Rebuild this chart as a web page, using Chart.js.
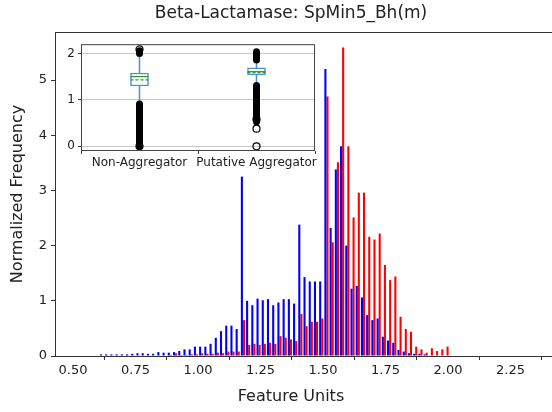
<!DOCTYPE html>
<html>
<head>
<meta charset="utf-8">
<script src="https://cdn.jsdelivr.net/npm/chart.js@4.4.1/dist/chart.umd.min.js"></script>
<style>
  html, body { margin: 0; padding: 0; background: #fff; overflow: hidden; }
  #wrap { position: relative; width: 552px; height: 412px; }
  #histChart { position: absolute; left: 0; top: 0; }
  #boxChart { position: absolute; left: 56px; top: 34px; }
</style>
</head>
<body>
<div id="wrap">
  <canvas id="histChart" width="552" height="412"></canvas>
  <canvas id="boxChart" width="270" height="140"></canvas>
</div>

<script>
  // histogram bins (100 bins from 0, only the visible ones listed)
  var binWidth = 0.02088;
  var firstBin = 29;

  // Non-Aggregator (blue)
  var nonAggregator = [
    0.03, 0.03, 0.03, 0.03, 0.03, 0.03, 0.04, 0.05, 0.05, 0.04,
    0.04, 0.07, 0.06, 0.06, 0.07, 0.09, 0.12, 0.12, 0.17, 0.17,
    0.17, 0.22, 0.33, 0.45, 0.55, 0.55, 0.49, 3.25, 1.00, 0.92,
    1.04, 1.01, 1.03, 0.92, 0.97, 1.03, 1.03, 0.95, 2.38, 1.43,
    1.35, 1.35, 1.35, 5.20, 2.32, 3.38, 3.80, 2.00, 1.22, 1.27,
    1.06, 0.74, 0.65, 0.68, 0.35, 0.28, 0.24, 0.11, 0.08, 0.05,
    0.04, 0.04, 0.03, 0.01, 0.01, 0.00, 0.00
  ];

  // Putative Aggregator (red)
  var putativeAggregator = [
    0.00, 0.00, 0.00, 0.00, 0.01, 0.00, 0.01, 0.01, 0.01, 0.01,
    0.01, 0.01, 0.01, 0.02, 0.05, 0.02, 0.02, 0.03, 0.03, 0.05,
    0.04, 0.04, 0.06, 0.05, 0.08, 0.08, 0.08, 0.65, 0.20, 0.22,
    0.20, 0.22, 0.24, 0.22, 0.36, 0.33, 0.30, 0.27, 0.76, 0.54,
    0.62, 0.62, 0.68, 4.70, 2.06, 3.51, 5.59, 3.80, 2.51, 2.96,
    2.96, 2.16, 2.11, 2.22, 1.65, 1.38, 1.44, 0.71, 0.49, 0.44,
    0.17, 0.12, 0.06, 0.14, 0.09, 0.12, 0.17
  ];

  var xTicks = [0.50, 0.75, 1.00, 1.25, 1.50, 1.75, 2.00, 2.25];
  var yTicks = [0, 1, 2, 3, 4, 5];

  // inset boxplot
  var boxGroups = ['Non-Aggregator', 'Putative Aggregator'];
  var boxQ1 = [1.30, 1.54];
  var boxQ3 = [1.58, 1.69];
  var boxMedian = [1.50, 1.61];
  var boxMean = [1.43, 1.59];
  var whiskerLow = [0.93, 1.34];
  var whiskerHigh = [1.98, 1.83];
  var outlierBands = [
    [[0.00, 0.91], [2.00, 2.06]],
    [[0.53, 1.31], [1.86, 2.04]]
  ];
  var outlierPoints = [[2.09, 0.00], [0.38, 0.58, 0.00]];
  var boxTicks = [0, 1, 2];

  var titleText = 'Beta-Lactamase: SpMin5_Bh(m)';
  var xLabelText = 'Feature Units';

  var binCenters = nonAggregator.map(function (v, i) {
    return (firstBin + i + 0.5) * binWidth;
  });

  // top spine, title and x label (both sit a bit left of the visible plot centre, like the original)
  var spines = {
    id: 'spines',
    afterDraw: function (chart) {
      var a = chart.chartArea, c = chart.ctx;
      c.save();
      c.strokeStyle = '#333';
      c.lineWidth = 1;
      c.beginPath();
      c.moveTo(a.left, a.top + 0.5);
      c.lineTo(a.right, a.top + 0.5);
      c.stroke();
      c.fillStyle = '#222';
      c.textAlign = 'center';
      c.textBaseline = 'middle';
      c.font = '17px "DejaVu Sans"';
      c.fillText(titleText, 291, 14);
      c.font = '16px "DejaVu Sans"';
      c.fillText(xLabelText, 291, 397);
      c.restore();
    }
  };

  var ctxHist = document.getElementById('histChart').getContext('2d');
  var histChart = new Chart(ctxHist, {
    type: 'bar',
    data: {
      datasets: [{
        label: 'Non-Aggregator',
        data: binCenters.map(function (x, i) { return { x: x, y: nonAggregator[i] }; }),
        backgroundColor: '#0000ff'
      }, {
        label: 'Putative Aggregator',
        data: binCenters.map(function (x, i) { return { x: x, y: putativeAggregator[i] }; }),
        backgroundColor: '#ff0000'
      }]
    },
    options: {
      responsive: false,
      animation: false,
      categoryPercentage: 0.8,
      barPercentage: 1.0,
      layout: { padding: { top: 32 } },
      plugins: {
        legend: { display: false },
        tooltip: { enabled: false }
      },
      scales: {
        x: {
          type: 'linear',
          offset: false,
          min: 0.428,
          max: 2.416,
          afterFit: function (s) { s.height = 56; },
          afterBuildTicks: function (s) { s.ticks = xTicks.map(function (v) { return { value: v }; }); },
          ticks: {
            color: '#222',
            font: { family: 'DejaVu Sans', size: 13 },
            padding: 3,
            maxRotation: 0,
            callback: function (v) { return Number(v).toFixed(2); }
          },
          grid: { drawOnChartArea: false, drawTicks: true, tickLength: 4, color: '#333' },
          border: { display: true, color: '#333', width: 1 }
        },
        y: {
          min: 0,
          max: 5.87,
          afterFit: function (s) { s.width = 55; },
          afterBuildTicks: function (s) { s.ticks = yTicks.map(function (v) { return { value: v }; }); },
          ticks: {
            color: '#222',
            font: { family: 'DejaVu Sans', size: 13 },
            padding: 4
          },
          grid: { drawOnChartArea: false, drawTicks: true, tickLength: 4, color: '#333' },
          border: { display: true, color: '#333', width: 1 },
          title: {
            display: true,
            text: 'Normalized Frequency',
            color: '#222',
            font: { family: 'DejaVu Sans', size: 16 },
            padding: { top: 8, bottom: 0 }
          }
        }
      }
    },
    plugins: [spines]
  });

  // ---- inset boxplot ----
  var insetFrame = {
    id: 'insetFrame',
    beforeDraw: function (chart) {
      var a = chart.chartArea, c = chart.ctx;
      c.save();
      c.fillStyle = '#fff';
      c.fillRect(a.left, a.top, a.right - a.left, a.bottom - a.top);
      c.restore();
    },
    afterDraw: function (chart) {
      var a = chart.chartArea, c = chart.ctx;
      c.save();
      c.strokeStyle = '#444';
      c.lineWidth = 1;
      c.strokeRect(a.left + 0.5, a.top + 0.5, a.right - a.left - 1, a.bottom - a.top - 1);
      c.restore();
    }
  };

  var half = 0.077;
  var boxBlue = '#4f8fd0';
  var insetSets = [];

  boxGroups.forEach(function (g, i) {
    var p = i + 1;
    outlierBands[i].forEach(function (b) {
      insetSets.push({
        type: 'line',
        data: [{ x: p, y: b[0] }, { x: p, y: b[1] }],
        borderColor: '#000',
        borderWidth: 7,
        borderCapStyle: 'round',
        pointRadius: 0,
        order: 1
      });
    });
    insetSets.push({
      type: 'scatter',
      data: outlierPoints[i].map(function (y) { return { x: p, y: y }; }),
      pointRadius: 3.5,
      borderColor: '#000',
      borderWidth: 1.2,
      backgroundColor: 'rgba(0,0,0,0)',
      order: 0
    });
    insetSets.push({
      type: 'line',
      data: [{ x: p, y: whiskerLow[i] }, { x: p, y: boxQ1[i] }],
      borderColor: boxBlue, borderWidth: 1.5, pointRadius: 0, order: 3
    });
    insetSets.push({
      type: 'line',
      data: [{ x: p, y: boxQ3[i] }, { x: p, y: whiskerHigh[i] }],
      borderColor: boxBlue, borderWidth: 1.5, pointRadius: 0, order: 3
    });
    insetSets.push({
      type: 'line',
      data: [{ x: p - half, y: boxMedian[i] }, { x: p + half, y: boxMedian[i] }],
      borderColor: '#2ca02c', borderWidth: 1.3, pointRadius: 0, order: 0
    });
    insetSets.push({
      type: 'line',
      data: [{ x: p - half, y: boxMean[i] }, { x: p + half, y: boxMean[i] }],
      borderColor: '#2ca02c', borderWidth: 1.3, borderDash: [3, 2], pointRadius: 0, order: 0
    });
  });

  insetSets.push({
    type: 'bar',
    data: boxGroups.map(function (g, i) { return { x: i + 1, y: [boxQ1[i], boxQ3[i]] }; }),
    backgroundColor: '#ffffff',
    borderColor: boxBlue,
    borderWidth: 1.5,
    borderSkipped: false,
    barThickness: 18,
    grouped: false,
    order: 2
  });

  var ctxBox = document.getElementById('boxChart').getContext('2d');
  var boxChart = new Chart(ctxBox, {
    type: 'scatter',
    data: { datasets: insetSets },
    options: {
      responsive: false,
      animation: false,
      layout: { padding: { top: 7, right: 11, left: 0, bottom: 0 } },
      plugins: { legend: { display: false }, tooltip: { enabled: false } },
      scales: {
        x: {
          type: 'linear',
          offset: false,
          min: 0.5,
          max: 2.5,
          afterFit: function (s) { s.height = 23; },
          afterBuildTicks: function (s) { s.ticks = boxGroups.map(function (g, i) { return { value: i + 1 }; }); },
          ticks: {
            color: '#222',
            font: { family: 'DejaVu Sans', size: 12 },
            padding: 2,
            maxRotation: 0,
            autoSkip: false,
            callback: function (v) { return boxGroups[Math.round(v) - 1]; }
          },
          grid: { drawOnChartArea: false, tickLength: 3, color: '#444' },
          border: { display: false }
        },
        y: {
          min: -0.1,
          max: 2.2,
          afterFit: function (s) { s.width = 25; },
          afterBuildTicks: function (s) { s.ticks = boxTicks.map(function (v) { return { value: v }; }); },
          ticks: {
            color: '#222',
            font: { family: 'DejaVu Sans', size: 12 },
            padding: 3
          },
          grid: { color: '#c8c8c8', tickLength: 3, tickColor: '#444' },
          border: { display: false }
        }
      }
    },
    plugins: [insetFrame]
  });
</script>
</body>
</html>
